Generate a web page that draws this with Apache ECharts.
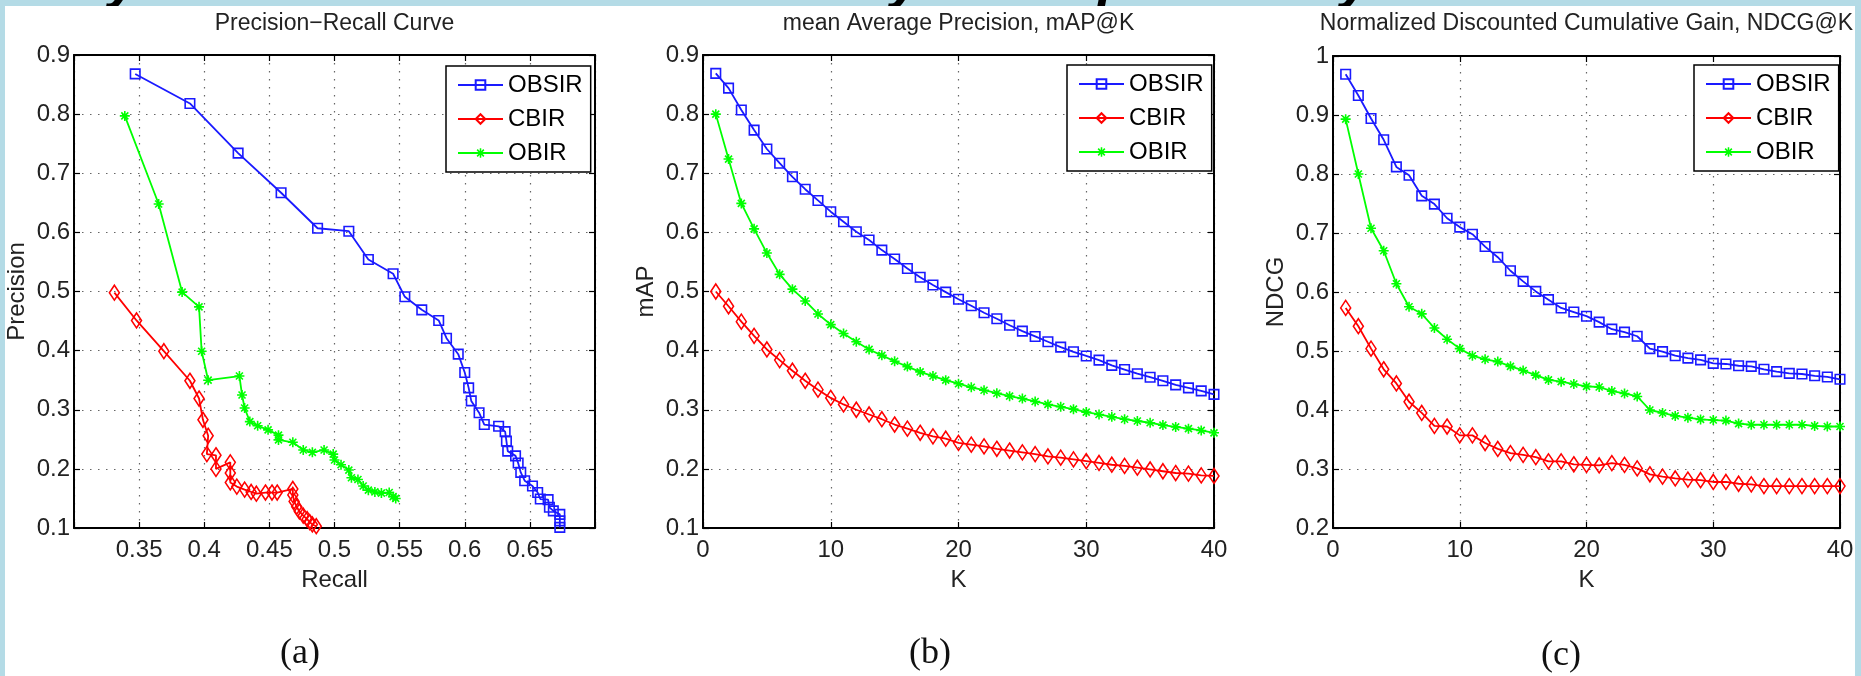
<!DOCTYPE html>
<html>
<head>
<meta charset="utf-8">
<script src="https://cdn.jsdelivr.net/npm/echarts@6/dist/echarts.min.js"></script>
<style>
html,body{margin:0;padding:0;background:#b4dbe6;}
#chart{width:1861px;height:676px;}
</style>
</head>
<body>
<div id="chart"></div>
<script>
// ---------- data ----------
const seriesNames = ['OBSIR', 'CBIR', 'OBIR'];
const titles = ['Precision\u2212Recall Curve', 'mean Average Precision, mAP@K', 'Normalized Discounted Cumulative Gain, NDCG@K'];
const panelLabels = ['(a)', '(b)', '(c)'];
const axisNamesX = ['Recall', 'K', 'K'];
const axisNamesY = ['Precision', 'mAP', 'NDCG'];

// (a) Precision-Recall pairs [recall, precision]
const prOBSIR = [[0.347,0.868],[0.389,0.818],[0.426,0.734],[0.459,0.667],[0.487,0.607],[0.511,0.602],[0.526,0.554],[0.545,0.530],[0.554,0.491],[0.567,0.469],[0.580,0.451],[0.586,0.421],[0.595,0.394],[0.600,0.363],[0.603,0.337],[0.605,0.315],[0.611,0.295],[0.615,0.275],[0.626,0.272],[0.631,0.263],[0.632,0.247],[0.633,0.230],[0.639,0.222],[0.641,0.210],[0.643,0.194],[0.646,0.180],[0.652,0.171],[0.656,0.160],[0.658,0.149],[0.664,0.148],[0.665,0.135],[0.668,0.129],[0.673,0.123],[0.673,0.112],[0.673,0.101]];
const prCBIR = [[0.331,0.498],[0.348,0.451],[0.369,0.399],[0.389,0.349],[0.396,0.319],[0.399,0.283],[0.403,0.256],[0.402,0.225],[0.409,0.223],[0.409,0.200],[0.420,0.211],[0.420,0.193],[0.420,0.177],[0.425,0.170],[0.431,0.165],[0.436,0.161],[0.440,0.158],[0.447,0.160],[0.452,0.160],[0.456,0.160],[0.468,0.166],[0.468,0.156],[0.469,0.145],[0.471,0.136],[0.473,0.128],[0.476,0.121],[0.479,0.115],[0.481,0.110],[0.483,0.106],[0.486,0.103]];
const prOBIR = [[0.339,0.797],[0.365,0.648],[0.383,0.499],[0.396,0.474],[0.398,0.399],[0.403,0.350],[0.427,0.357],[0.429,0.325],[0.431,0.303],[0.435,0.280],[0.441,0.273],[0.449,0.266],[0.457,0.257],[0.457,0.249],[0.468,0.245],[0.476,0.232],[0.483,0.228],[0.492,0.232],[0.499,0.225],[0.500,0.215],[0.505,0.207],[0.511,0.198],[0.513,0.185],[0.518,0.182],[0.522,0.171],[0.526,0.164],[0.531,0.161],[0.536,0.159],[0.542,0.160],[0.545,0.153],[0.547,0.150]];

// K values for (b) and (c)
const kValues = [1,2,3,4,5,6,7,8,9,10,11,12,13,14,15,16,17,18,19,20,21,22,23,24,25,26,27,28,29,30,31,32,33,34,35,36,37,38,39,40];

// (b) mAP@K
const mapOBSIR = [0.869,0.844,0.807,0.773,0.741,0.717,0.694,0.673,0.654,0.635,0.618,0.601,0.587,0.570,0.555,0.539,0.524,0.511,0.499,0.487,0.476,0.464,0.454,0.443,0.433,0.424,0.415,0.406,0.398,0.391,0.384,0.375,0.368,0.361,0.355,0.349,0.342,0.337,0.332,0.326];
const mapCBIR = [0.500,0.475,0.449,0.425,0.402,0.384,0.366,0.349,0.334,0.320,0.309,0.300,0.292,0.284,0.275,0.268,0.261,0.255,0.251,0.244,0.241,0.238,0.234,0.231,0.228,0.225,0.221,0.219,0.216,0.213,0.210,0.207,0.205,0.202,0.199,0.196,0.193,0.192,0.189,0.188];
const mapOBIR = [0.800,0.724,0.649,0.606,0.565,0.529,0.504,0.484,0.462,0.444,0.429,0.415,0.402,0.392,0.382,0.373,0.364,0.357,0.350,0.344,0.338,0.333,0.328,0.323,0.319,0.314,0.309,0.305,0.301,0.296,0.292,0.288,0.284,0.281,0.278,0.274,0.271,0.268,0.265,0.261];

// (c) NDCG@K
const ndcgOBSIR = [0.969,0.933,0.894,0.858,0.812,0.798,0.763,0.749,0.725,0.710,0.698,0.677,0.659,0.636,0.618,0.601,0.587,0.573,0.566,0.559,0.549,0.537,0.532,0.525,0.504,0.499,0.492,0.488,0.485,0.479,0.478,0.475,0.474,0.469,0.465,0.462,0.461,0.458,0.456,0.452];
const ndcgCBIR = [0.573,0.542,0.504,0.469,0.445,0.414,0.395,0.373,0.372,0.357,0.357,0.344,0.334,0.327,0.324,0.320,0.313,0.313,0.308,0.307,0.306,0.310,0.307,0.301,0.291,0.287,0.284,0.282,0.281,0.278,0.278,0.275,0.274,0.271,0.271,0.271,0.271,0.271,0.271,0.271];
const ndcgOBIR = [0.893,0.800,0.708,0.670,0.614,0.575,0.563,0.539,0.520,0.504,0.492,0.486,0.482,0.474,0.467,0.459,0.451,0.448,0.444,0.440,0.439,0.432,0.428,0.423,0.400,0.395,0.390,0.387,0.384,0.383,0.382,0.377,0.375,0.375,0.375,0.375,0.375,0.373,0.372,0.372];

// axis ranges
const xRanges = [[0.3, 0.7, 0.05], [0, 40, 10], [0, 40, 10]];
const yRanges = [[0.1, 0.9, 0.1], [0.1, 0.9, 0.1], [0.2, 1.0, 0.1]];

// ---------- layout / style ----------
const grids = [
  {left: 74, top: 55, width: 521, height: 473},
  {left: 703, top: 55, width: 511, height: 473},
  {left: 1333, top: 56, width: 507, height: 472}
];
const legendPos = [[446, 66], [1067, 65], [1694, 65]];
const labelPos = [[300, 654], [930, 654], [1561, 656]];
const colors = ['#1a1aff', '#ff0000', '#00ff00'];
const starPath = 'path://M0,4.2L10,4.2L10,5.8L0,5.8Z M4.2,0L5.8,0L5.8,10L4.2,10Z M0.93,2.07L2.07,0.93L9.07,7.93L7.93,9.07Z M7.93,0.93L9.07,2.07L2.07,9.07L0.93,7.93Z';
const fontFam = 'Liberation Sans, Arial, Helvetica, sans-serif';

function fmt(v) { return String(parseFloat(v.toFixed(2))); }

const xAxes = [], yAxes = [];
for (let i = 0; i < 3; i++) {
  const [xmin, xmax, xint] = xRanges[i];
  const [ymin, ymax, yint] = yRanges[i];
  xAxes.push({
    gridIndex: i, type: 'value', min: xmin, max: xmax, interval: xint,
    name: axisNamesX[i], nameLocation: 'middle', nameGap: 40,
    nameTextStyle: {fontSize: 24, color: '#222', fontFamily: fontFam},
    axisLine: {show: true, onZero: false, lineStyle: {color: '#000', width: 2}},
    axisTick: {show: true, inside: true, length: 6, lineStyle: {color: '#000', width: 1.2}},
    axisLabel: {show: true, margin: 10, fontSize: 24, color: '#222', fontFamily: fontFam,
      formatter: function (v) {
        if (i === 0 && (Math.abs(v - xmin) < 1e-6 || Math.abs(v - xmax) < 1e-6)) return '';
        return fmt(v);
      }},
    splitLine: {show: true, lineStyle: {type: [1.5, 6.5], color: '#666', width: 1.2}}
  });
  yAxes.push({
    gridIndex: i, type: 'value', min: ymin, max: ymax, interval: yint,
    name: axisNamesY[i], nameLocation: 'middle', nameGap: 45,
    nameTextStyle: {fontSize: 24, color: '#222', fontFamily: fontFam},
    axisLine: {show: true, onZero: false, lineStyle: {color: '#000', width: 2}},
    axisTick: {show: true, inside: true, length: 6, lineStyle: {color: '#000', width: 1.2}},
    axisLabel: {show: true, margin: 4, fontSize: 24, color: '#222', fontFamily: fontFam, formatter: fmt},
    splitLine: {show: true, lineStyle: {type: [1.5, 6.5], color: '#666', width: 1.2}}
  });
}
for (let i = 0; i < 3; i++) {
  const [xmin, xmax, xint] = xRanges[i];
  const [ymin, ymax, yint] = yRanges[i];
  xAxes.push({
    gridIndex: i, type: 'value', position: 'top', min: xmin, max: xmax, interval: xint,
    axisLine: {show: true, onZero: false, lineStyle: {color: '#000', width: 2}},
    axisTick: {show: true, inside: true, length: 6, lineStyle: {color: '#000', width: 1.2}},
    axisLabel: {show: false}, splitLine: {show: false}
  });
  yAxes.push({
    gridIndex: i, type: 'value', position: 'right', min: ymin, max: ymax, interval: yint,
    axisLine: {show: true, onZero: false, lineStyle: {color: '#000', width: 2}},
    axisTick: {show: true, inside: true, length: 6, lineStyle: {color: '#000', width: 1.2}},
    axisLabel: {show: false}, splitLine: {show: false}
  });
}

function withK(arr) { return arr.map((v, j) => [kValues[j], v]); }
const panelData = [
  [prOBSIR, prCBIR, prOBIR],
  [withK(mapOBSIR), withK(mapCBIR), withK(mapOBIR)],
  [withK(ndcgOBSIR), withK(ndcgCBIR), withK(ndcgOBIR)]
];

function styleFor(s) {
  if (s === 0) return {symbol: 'rect', symbolSize: 9.5, itemStyle: {color: 'rgba(255,255,255,0)', borderColor: colors[0], borderWidth: 1.6}};
  if (s === 1) return {symbol: 'diamond', symbolSize: [10, 15], itemStyle: {color: 'rgba(255,255,255,0)', borderColor: colors[1], borderWidth: 1.6}};
  return {symbol: starPath, symbolSize: 10, itemStyle: {color: colors[2], borderWidth: 0}};
}

const series = [];
for (let p = 0; p < 3; p++) {
  for (let s = 0; s < 3; s++) {
    const st = styleFor(s);
    series.push({
      name: seriesNames[s], type: 'line', xAxisIndex: p, yAxisIndex: p,
      data: panelData[p][s], symbol: st.symbol, symbolSize: st.symbolSize,
      showAllSymbol: true, itemStyle: st.itemStyle,
      lineStyle: {color: colors[s], width: 1.8}, animation: false, z: 3 + (2 - s)
    });
  }
}

const legends = legendPos.map(([l, t]) => ({
  left: l, top: t, orient: 'vertical', padding: [7, 8, 7, 11],
  itemWidth: 45, itemHeight: 12, itemGap: 10,
  borderColor: '#000', borderWidth: 1.5, backgroundColor: '#fff',
  textStyle: {fontSize: 24, color: '#000', lineHeight: 24, fontFamily: fontFam},
  data: seriesNames, selectedMode: false
}));

const titleOpts = titles.map((t, i) => ({
  text: t, left: grids[i].left + grids[i].width / 2, top: 12, textAlign: 'center', padding: 0,
  textStyle: {fontSize: 23, fontWeight: 'normal', color: '#222', fontFamily: fontFam}
}));

const graphics = [
  {type: 'text', left: 108, top: -46, z: -20, style: {text: 'y', font: 'italic bold 56px Liberation Sans', fill: '#000'}},
  {type: 'text', left: 890, top: -46, z: -20, style: {text: 'y', font: 'italic bold 56px Liberation Sans', fill: '#000'}},
  {type: 'text', left: 1098, top: -46, z: -20, style: {text: 'p', font: 'italic bold 56px Liberation Sans', fill: '#000'}},
  {type: 'text', left: 1340, top: -46, z: -20, style: {text: 'y', font: 'italic bold 56px Liberation Sans', fill: '#000'}},
  {type: 'rect', z: -10, shape: {x: 5, y: 6, width: 1850, height: 680}, style: {fill: '#ffffff'}}
];
labelPos.forEach(([x, y], i) => {
  graphics.push({type: 'text', x: x, y: y, z: 10, style: {text: panelLabels[i], font: '36px Liberation Serif, Times New Roman, serif', fill: '#111', textAlign: 'center', textVerticalAlign: 'middle'}});
});

const chart = echarts.init(document.getElementById('chart'));
chart.setOption({
  backgroundColor: '#b4dbe6',
  animation: false,
  title: titleOpts,
  legend: legends,
  grid: grids.map(g => Object.assign({containLabel: false}, g)),
  xAxis: xAxes,
  yAxis: yAxes,
  series: series,
  graphic: graphics
});
</script>
</body>
</html>
